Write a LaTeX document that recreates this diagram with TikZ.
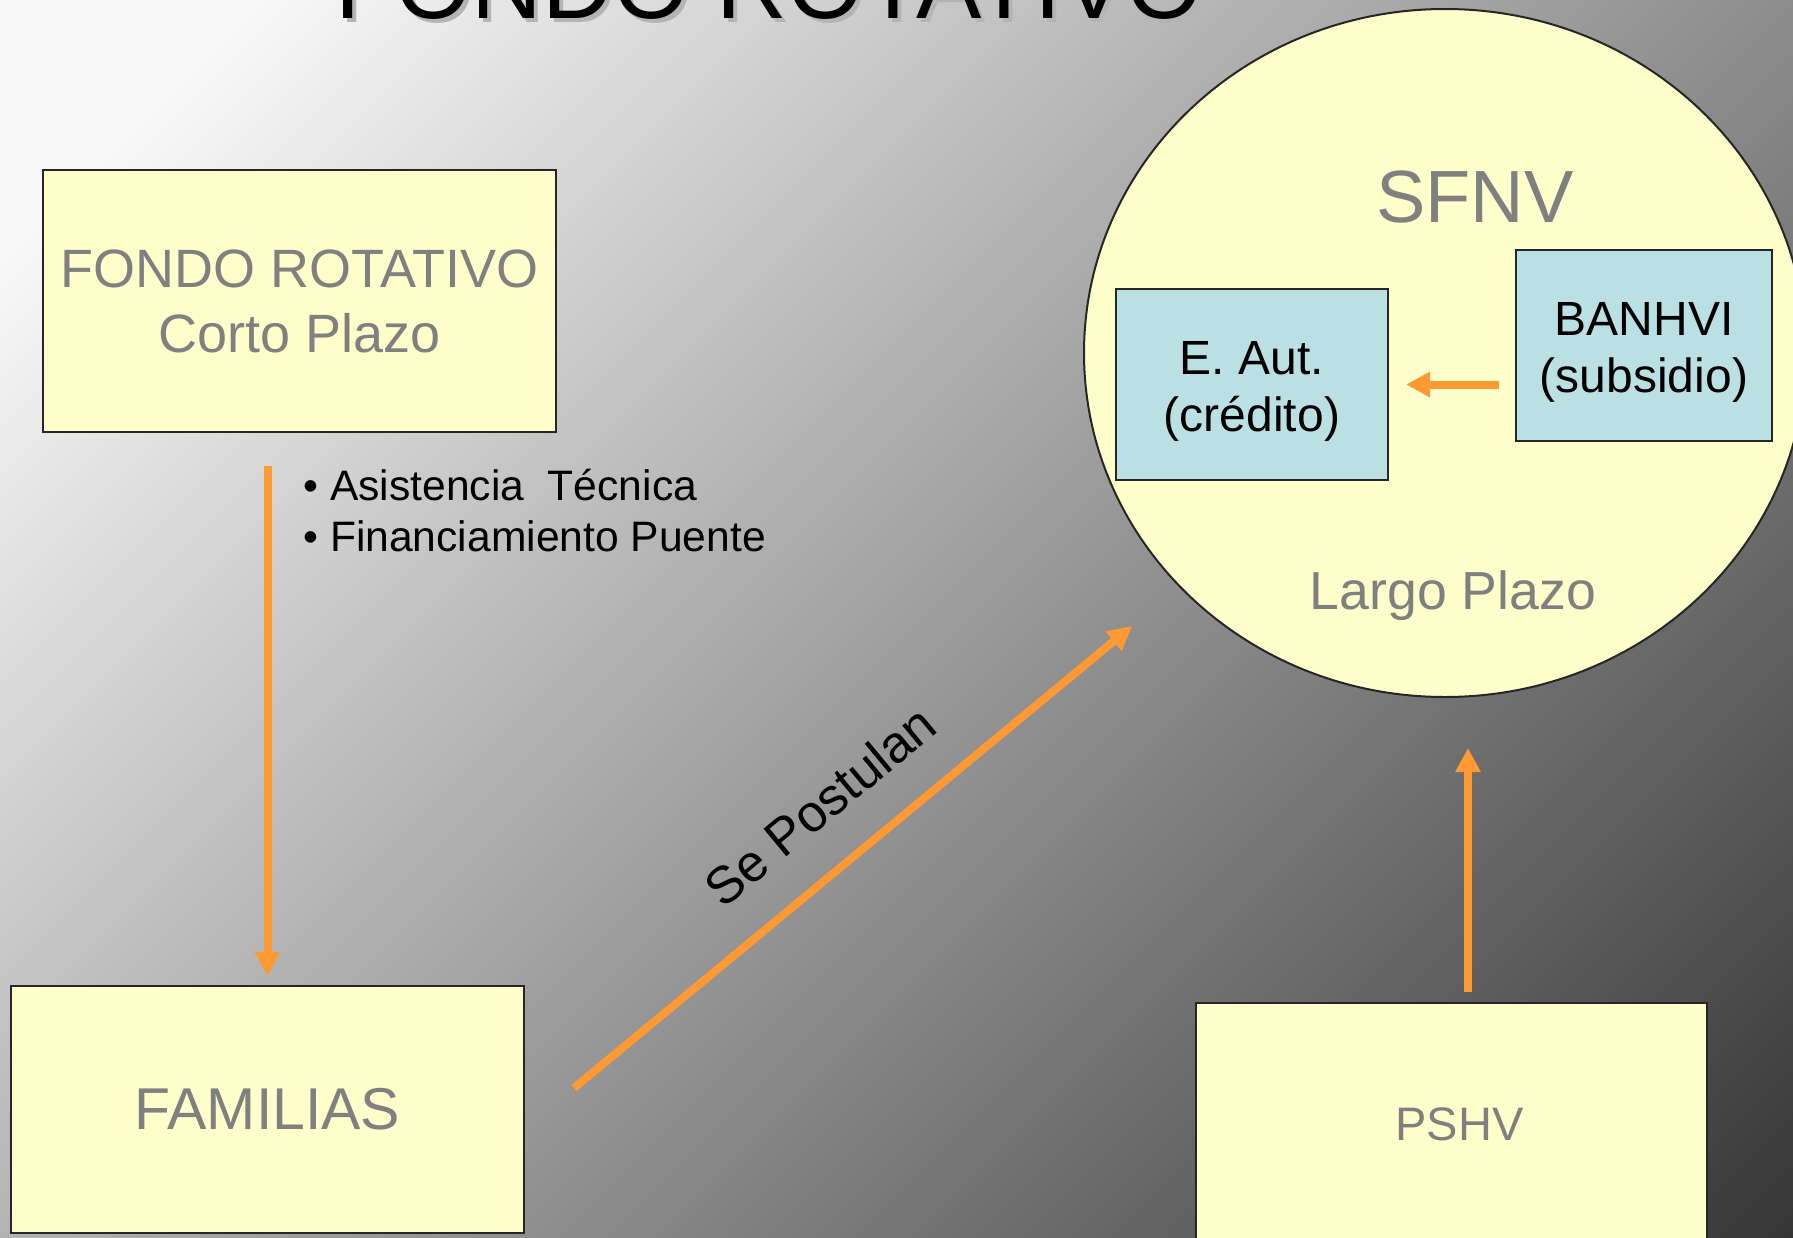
\documentclass[tikz,border=0pt]{standalone}
\usepackage{fontspec}
\setmainfont{Liberation Sans}
\usetikzlibrary{arrows.meta,shapes.geometric,calc}
\definecolor{boxyellow}{HTML}{FFFFCC}
\definecolor{boxblue}{HTML}{BBE0E3}
\definecolor{txtgray}{HTML}{808080}
\definecolor{arrorange}{HTML}{FF9933}
\definecolor{shadowgray}{HTML}{B4B4B4}
\definecolor{bgA}{HTML}{F8F8F8}
\definecolor{bgB}{HTML}{363636}
\pgfdeclarehorizontalshading{bgshade}{100bp}{color(0bp)=(bgA); color(20.5bp)=(bgA); color(85.4bp)=(bgB); color(100bp)=(bgB)}
\begin{document}
\begin{tikzpicture}[x=0.5pt,y=-0.5pt,
  ybox/.style={draw=black!85, line width=1pt, fill=boxyellow, inner sep=0pt, align=center, text=txtgray},
  bbox/.style={draw=black!85, line width=1pt, fill=boxblue, inner sep=0pt, align=center, text=black,
    minimum height=95.5pt, font=\fontsize{24}{28.5}\selectfont},
  arr/.style={draw=arrorange, line width=4pt, -{Triangle[length=12pt,width=12pt]}},
  plain/.style={inner sep=0pt}]
\useasboundingbox (0,0) rectangle (1793,1237);
\shade[shading=bgshade, shading angle=-45] (0,0) rectangle (1793,1237);
\clip (0,0) rectangle (1793,1237);
% title
\node[plain, anchor=base west, text=shadowgray, font=\fontsize{49}{50}\selectfont] (titleshadow) at (339,22) {FONDO ROTATIVO};
\node[plain, anchor=base west, text=black, font=\fontsize{49}{50}\selectfont] (title) at (335,18) {FONDO ROTATIVO};
% boxes
\node[ybox, minimum width=256.5pt, minimum height=131pt, font=\fontsize{27}{32.5}\selectfont] (fondo) at (299.5,301) {FONDO ROTATIVO\\Corto Plazo};
\node[ybox, minimum width=256.5pt, minimum height=123.5pt, font=\fontsize{29.5}{35}\selectfont] (fam) at (267.5,1109.5) {FAMILIAS};
\node[ybox, minimum width=255.5pt, minimum height=121pt, font=\fontsize{23.5}{28}\selectfont] (pshv) at (1451.5,1124) {\hspace*{8pt}PSHV};
\node[draw=black!85, line width=1pt, fill=boxyellow, ellipse, minimum width=361pt, minimum height=344pt, inner sep=0pt] (sfnv) at (1445,353) {};
\node[plain, text=txtgray, font=\fontsize{37}{40}\selectfont] (sfnvt) at (1475,197) {SFNV};
\node[plain, text=txtgray, font=\fontsize{26.8}{30}\selectfont] (largo) at (1453,596) {Largo Plazo};
\node[bbox, minimum width=136pt] (eaut) at (1252,384.5) {\rule{0pt}{23.2pt}E. Aut.\\(crédito)};
\node[bbox, minimum width=128pt] (banhvi) at (1644,345.5) {\rule{0pt}{23.2pt}BANHVI\\(subsidio)};
% bullets
\node[plain, anchor=base west, font=\fontsize{21.3}{26}\selectfont] (bul1) at (303,500) {• Asistencia\ \ Técnica};
\node[plain, anchor=base west, font=\fontsize{21.3}{26}\selectfont] (bul2) at (303,551) {• Financiamiento Puente};
% arrows
\draw[arr] ($(fondo.south -| fam.north)+(0,33)$) -- ($(fam.north)+(0,-9)$);
\draw[arr] ($(fam.north east)+(49,103)$) -- ($(sfnv.center)+(-313,273)$);
\draw[arr] ($(pshv.north)+(16.5,-10)$) -- ($(sfnv.south)+(23,50)$);
\draw[arr] ($(banhvi.west |- eaut.east)+(-16,0)$) -- ($(eaut.east)+(17,0)$);
\node[plain, rotate=39.6, font=\fontsize{26}{30}\selectfont] (post) at (820,806) {Se Postulan};
\end{tikzpicture}
\end{document}
